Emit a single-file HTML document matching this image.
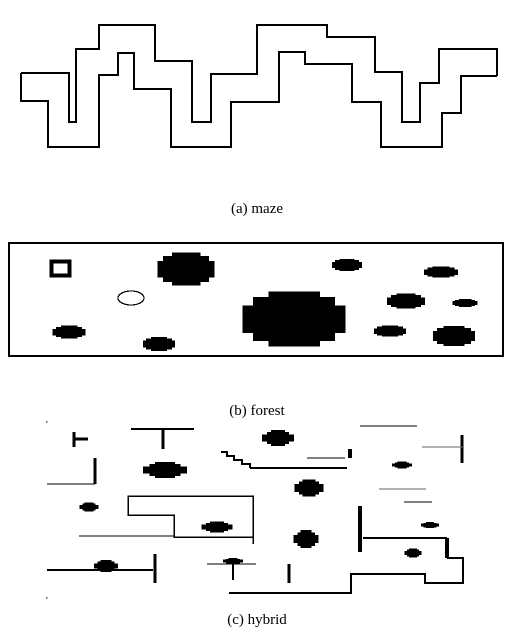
<!DOCTYPE html>
<html><head><meta charset="utf-8">
<style>
html,body{margin:0;padding:0;background:#fff;}
svg{display:block;}
text{font-family:"Liberation Serif",serif;font-size:15px;fill:#000;}
</style></head>
<body>
<svg id="fig" width="514" height="631" viewBox="0 0 514 631" xmlns="http://www.w3.org/2000/svg" shape-rendering="crispEdges">
<g id="maze" fill="none" stroke="#000" stroke-width="1.8">
<polyline points="21,73 69,73 69,122 76,122 76,49 99,49 99,25 155,25 155,61 192,61 192,122 211,122 211,74 257,74 257,25 327,25 327,37 375,37 375,72 402,72 402,122 420,122 420,83 439,83 439,49 497,49 497,76"/>
<polyline points="21,73 21,101 48,101 48,147 99,147 99,75 118,75 118,53 134,53 134,89 171,89 171,147 231,147 231,102 279,102 279,52 305,52 305,64 352,64 352,102 381,102 381,147 442,147 442,113 461,113 461,76 497,76"/>
</g>
<text x="257" y="213" text-anchor="middle">(a)  maze</text>

<g id="forest">
<rect x="9" y="243" width="494" height="113" fill="none" stroke="#000" stroke-width="2"/>
<rect x="51.5" y="261.5" width="18" height="14" fill="none" stroke="#000" stroke-width="4"/>
<ellipse cx="131" cy="298" rx="13" ry="7" fill="none" stroke="#000" stroke-width="1.2"/>
</g>
<text x="257" y="415" text-anchor="middle">(b)  forest</text>

<g id="hybrid" fill="none" stroke="#000">
<path stroke-width="3" d="M74,432V447 M74,439H88 M163,429V449 M95,458V484 M462,435V463 M155,554V583 M289,564V583"/>
<path stroke-width="2" d="M131,429H194 M250,468H347 M47,570H153 M233,558V580 M363,538H447"/>
<path stroke-width="4" d="M350,449V458 M360,506V552 M447,538V558"/>
<path stroke-width="1.3" d="M47,484H95 M307,458H345 M360,426H417 M404,502H432 M207,564H256 M79,536H174"/>
<path stroke="#666" stroke-width="1.3" d="M422,447H463 M379,489H426"/>
<polyline stroke-width="2" points="221,452 227,452 227,456 234,456 234,460 242,460 242,464 250,464 250,468"/>
<polyline stroke-width="1.5" points="253,544 253,496 128,496 128,515 174,515 174,537 253,537"/>
<polyline stroke-width="1.6" points="447,558 463,558 463,583 425,583 425,574 351,574 351,593 229,593"/>
<rect x="46" y="421" width="1.5" height="1.5" fill="#555" stroke="none"/>
<rect x="46" y="597" width="1.5" height="1.5" fill="#555" stroke="none"/>
</g>
<text x="257" y="624" text-anchor="middle">(c)  hybrid</text>
</svg>
<script>
// obstacle blobs: centre x, centre y, width, height
const forestCx=[186,347,441,406,465,69,159,390,454,294];
const forestCy=[269,265,272,301,303,332,344,331,336,319];
const forestW=[57,30,34,38,25,33,32,32,42,103];
const forestH=[33,12,11,15,8,13,14,11,20,55];
const hybridCx=[165,278,402,309,89,217,306,430,413,106,233];
const hybridCy=[470,438,465,488,507,527,539,525,553,566,561];
const hybridW=[44,32,20,29,19,31,25,18,17,24,20];
const hybridH=[16,16,7,17,9,11,18,6,9,12,6];
const NS='http://www.w3.org/2000/svg';
function blob(g,cx,cy,w,h,parts){
  const grp=document.createElementNS(NS,'g');
  
  
  parts.forEach(p=>{
    const r=document.createElementNS(NS,'rect');
    r.setAttribute('x',cx-w*p[0]/2);r.setAttribute('y',cy-h*p[1]/2);
    r.setAttribute('width',w*p[0]);r.setAttribute('height',h*p[1]);
    r.setAttribute('fill','#000');r.setAttribute('stroke','none');
    grp.appendChild(r);
  });
  g.appendChild(grp);
}
const fg=document.getElementById('forest');
for(let i=0;i<forestCx.length;i++)blob(fg,forestCx[i],forestCy[i],forestW[i],forestH[i],[[1,0.5],[0.8,0.8],[0.5,1]]);
const hg=document.getElementById('hybrid');
for(let i=0;i<hybridCx.length;i++)blob(hg,hybridCx[i],hybridCy[i],hybridW[i],hybridH[i],[[1,0.45],[0.7,0.75],[0.45,1]]);
</script>
</body></html>
